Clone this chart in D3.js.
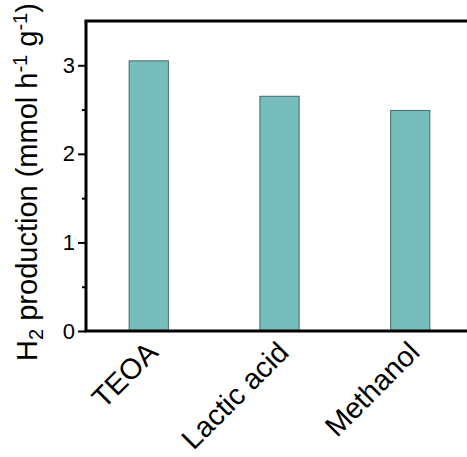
<!DOCTYPE html>
<html>
<head>
<meta charset="utf-8">
<script src="https://cdn.jsdelivr.net/npm/d3@7"></script>
<style>
  body { margin: 0; background: #fff; }
  text { font-family: "Liberation Sans", Arial, sans-serif; fill: #000; }
</style>
</head>
<body>
<svg width="467" height="457"></svg>
<script>
var categories = ["TEOA", "Lactic acid", "Methanol"];
var values = [3.05, 2.65, 2.49];
var yTicks = [0, 1, 2, 3];
var yMinorTicks = [0.5, 1.5, 2.5];

var svg = d3.select("svg"),
    margin = {top: 21, right: -6, bottom: 126, left: 86},
    width = svg.attr("width") - margin.left - margin.right,
    height = svg.attr("height") - margin.top - margin.bottom,
    g = svg.append("g").attr("transform", "translate(" + margin.left + "," + margin.top + ")");

var x = d3.scaleBand().domain(categories).range([0, width]).paddingInner(0.7).paddingOuter(0.33),
    y = d3.scaleLinear().domain([0, 3.5]).range([height, 0]);

// bars
g.selectAll(".bar")
    .data(categories)
    .enter().append("rect")
    .attr("class", "bar")
    .attr("x", function (d) { return x(d); })
    .attr("width", x.bandwidth())
    .attr("y", function (d, i) { return y(values[i]); })
    .attr("height", function (d, i) { return height - y(values[i]); })
    .attr("fill", "#76bdbd")
    .attr("stroke", "#466868")
    .attr("stroke-width", 1);

// minor y ticks
g.append("g")
    .call(d3.axisLeft(y).tickValues(yMinorTicks).tickSize(4).tickFormat(""))
    .call(function (a) { a.select(".domain").remove(); })
    .selectAll("line").attr("stroke-width", 2);

// y axis
var yAxis = g.append("g")
    .call(d3.axisLeft(y).tickValues(yTicks).tickSize(8).tickPadding(3).tickFormat(d3.format("d")));
yAxis.select(".domain").attr("stroke-width", 3).attr("d", "M0," + height + "V0");
yAxis.selectAll("line").attr("stroke-width", 2);
yAxis.selectAll("text").style("font-size", "22px");

// x axis
var xAxis = g.append("g")
    .attr("transform", "translate(0," + height + ")")
    .call(d3.axisBottom(x).tickSize(0).tickPadding(0));
xAxis.select(".domain").attr("stroke-width", 3).attr("d", "M-1.5,0H" + (width + 10));
xAxis.selectAll("text")
    .style("font-size", "29px")
    .attr("text-anchor", "end")
    .attr("dy", null)
    .attr("y", 0)
    .attr("transform", "translate(11,23) rotate(-45)");

// top frame
g.append("line")
    .attr("x1", -1.5).attr("x2", width + 10)
    .attr("y1", 0).attr("y2", 0)
    .attr("stroke", "#000").attr("stroke-width", 3);

// y title
var title = svg.append("text")
    .attr("transform", "translate(37," + 182 + ") rotate(-90)")
    .attr("text-anchor", "middle")
    .style("font-size", "29px");
title.append("tspan").text("H");
title.append("tspan").attr("dy", 6).style("font-size", "20px").text("2");
title.append("tspan").attr("dy", -6).text(" production (mmol h");
title.append("tspan").attr("dy", -10).style("font-size", "20px").text("-1");
title.append("tspan").attr("dy", 10).text(" g");
title.append("tspan").attr("dy", -10).style("font-size", "20px").text("-1");
title.append("tspan").attr("dy", 10).text(")");
</script>
</body>
</html>
